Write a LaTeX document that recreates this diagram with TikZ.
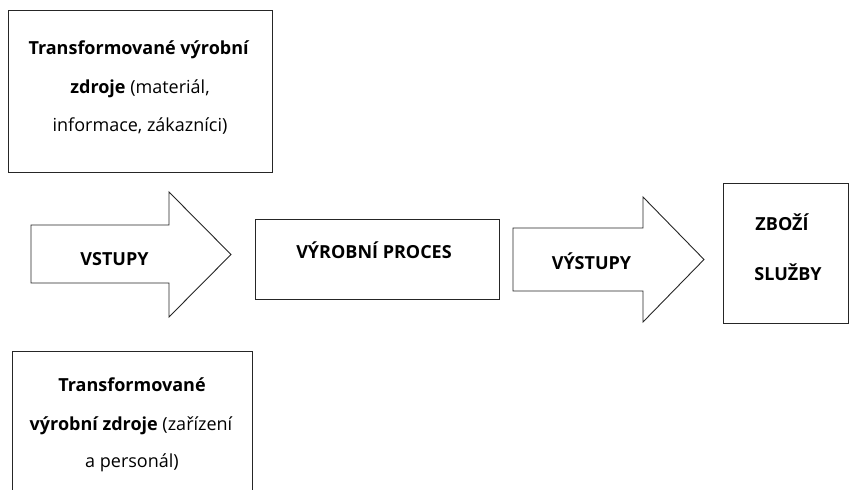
\documentclass[tikz,border=0pt]{standalone}
\usepackage{fontspec}
\setmainfont{Open Sans}
\begin{document}
\begin{tikzpicture}[x=1pt,y=-1pt,
  frame/.style={draw=black!85, line width=0.9pt},
  box/.style={frame, rectangle, inner sep=0pt, anchor=north west},
  txt/.style={font=\fontsize{18}{18}\selectfont, anchor=base, inner sep=0pt},
  bold/.style={txt, font=\fontsize{18}{18}\selectfont\bfseries}]
\useasboundingbox (0,0) rectangle (849,490);
\clip (0,0) rectangle (849,490);

% source box on top: transformed resources
\node[box, minimum width=264, minimum height=162] (src) at (8,10) {};
\node[txt] (src1) at (139,54) {\textbf{Transformované výrobní}};
\node[txt] (src2) at (140,93) {\textbf{zdroje} (materiál,};
\node[txt] (src3) at (140,131) {informace, zákazníci)};

% inputs arrow
\draw[frame] (31,225) -- (169,225) -- (169,192) -- (231,254.5)
  -- (169,317) -- (169,283) -- (31,283) -- cycle;
\node[bold] (inp) at (114.5,265) {VSTUPY};

% production process
\node[box, minimum width=244, minimum height=80] (proc) at (255,219) {};
\node[bold] (proct) at (374,258) {VÝROBNÍ PROCES};

% outputs arrow
\draw[frame] (513,228) -- (643,228) -- (643,197) -- (704,259.5)
  -- (643,322) -- (643,291) -- (513,291) -- cycle;
\node[bold] (out) at (591.5,269) {VÝSTUPY};

% goods and services
\node[box, minimum width=125, minimum height=140] (goods) at (723,183) {};
\node[bold] (goods1) at (782,230) {ZBOŽÍ};
\node[bold] (goods2) at (788,280) {SLUŽBY};

% source box at the bottom: transforming resources
\node[box, minimum width=240, minimum height=160] (res) at (12,351) {};
\node[bold] (res1) at (132,391) {Transformované};
\node[txt] (res2) at (131,430) {\textbf{výrobní zdroje} (zařízení};
\node[txt] (res3) at (132,467) {a personál)};
\end{tikzpicture}
\end{document}
